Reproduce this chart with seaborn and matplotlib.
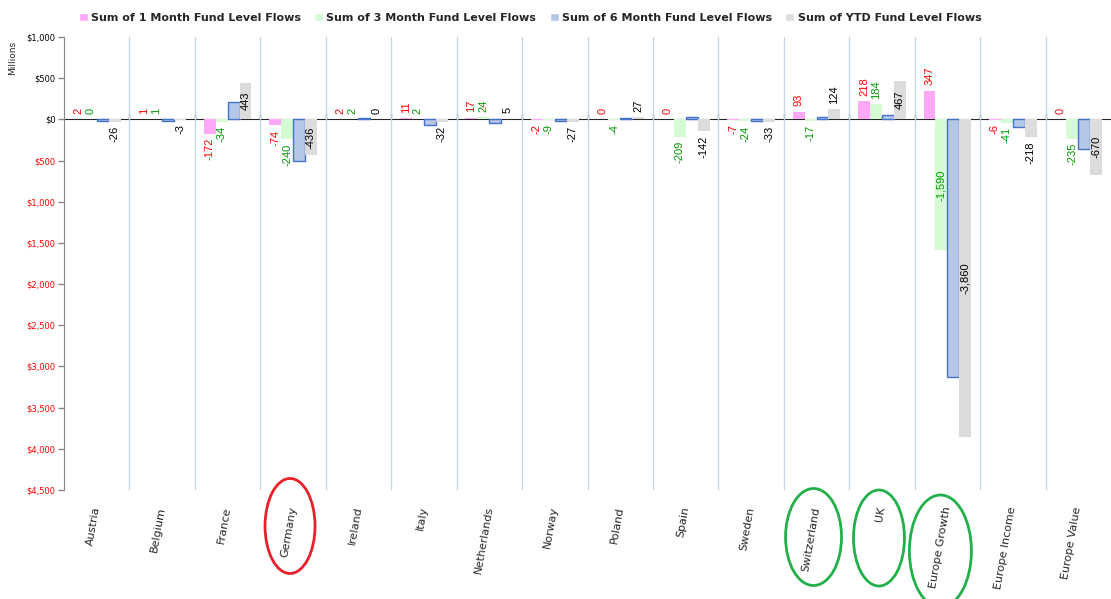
import matplotlib

matplotlib.use("Agg")
import matplotlib.pyplot as plt
import numpy as np
import pandas
import seaborn as sns
from matplotlib.patches import Ellipse
from matplotlib.ticker import FixedLocator

# Fund flows by country / style, in millions
categories = [
    "Austria", "Belgium", "France", "Germany", "Ireland", "Italy",
    "Netherlands", "Norway", "Poland", "Spain", "Sweden", "Switzerland",
    "UK", "Europe Growth", "Europe Income", "Europe Value",
]
series_names = [
    "Sum of 1 Month Fund Level Flows",
    "Sum of 3 Month Fund Level Flows",
    "Sum of 6 Month Fund Level Flows",
    "Sum of YTD Fund Level Flows",
]
flows_1m = [2, 1, -172, -74, 2, 11, 17, -2, 0, 0, -7, 93, 218, 347, -6, 0]
flows_3m = [0, 1, -34, -240, 2, 2, 24, -9, -4, -209, -24, -17, 184, -1590, -41, -235]
flows_6m = [-20, -15, 210, -500, 15, -65, -40, -25, 20, 30, -15, 32, 56, -3130, -90, -360]
flows_ytd = [-26, -3, 443, -436, 0, -32, 5, -27, 27, -142, -33, 124, 467, -3860, -218, -670]
yticks = list(range(-4500, 1001, 500))

# circled categories (hand-drawn highlights on the original)
highlighted = ["Germany", "Switzerland", "UK", "Europe Growth"]
highlight_colors = ["#e8202a", "#22b04a", "#22b04a", "#22b04a"]

bar_colors = ["#ffa8f8", "#d4fbd4", "#b4c7e7", "#dcdcdc"]
label_colors = ["#ff0000", "#009a00", None, "#000000"]

sns.set_style("white")
plt.rcParams["font.family"] = ["DejaVu Sans"]

rows = []
for name, vals in zip(series_names, [flows_1m, flows_3m, flows_6m, flows_ytd]):
    for cat, v in zip(categories, vals):
        rows.append({"category": cat, "series": name, "value": v})
df = pandas.DataFrame(rows)

fig = plt.figure(figsize=(11.11, 5.99), dpi=100)
ax = fig.add_axes([64 / 1111, 109 / 599, 1047 / 1111, 453 / 599])

sns.barplot(
    data=df, x="category", y="value", hue="series", order=categories,
    hue_order=series_names, palette=bar_colors, width=0.73, saturation=1,
    errorbar=None, ax=ax,
)

# only the 6 month bars get an outline
for i, cont in enumerate(ax.containers):
    for p in cont.patches:
        if i == 2:
            p.set_edgecolor("#4472c4")
            p.set_linewidth(1.0)
        else:
            p.set_linewidth(0)

# data labels (6 month series has none)
for i, cont in enumerate(ax.containers):
    if label_colors[i] is None:
        continue
    for p, v in zip(cont.patches, df[df.series == series_names[i]].value):
        xc = p.get_x() + p.get_width() / 2
        txt = f"{v:,.0f}"
        if abs(v) >= 400:
            ax.text(xc, v / 2, txt, rotation=90, ha="center", va="center",
                    fontsize=8, color=label_colors[i], family="Liberation Sans")
        else:
            up = v >= 0
            ax.annotate(txt, xy=(xc, v), xytext=(0, 4 if up else -3),
                        textcoords="offset points", rotation=90, ha="center",
                        va="bottom" if up else "top", fontsize=8,
                        color=label_colors[i], family="Liberation Sans")

ax.set_xlim(-0.5, len(categories) - 0.5)
ax.set_ylim(-4500, 1000)
ax.set_yticks(yticks)
ax.set_yticklabels([f"${abs(t):,.0f}" for t in yticks], fontsize=6)
for lab, t in zip(ax.get_yticklabels(), yticks):
    lab.set_color("#ff0000" if t < 0 else "#000000")
ax.tick_params(axis="y", direction="out", length=4, width=1, color="#868686", pad=2, left=True)

ax.set_xticks(range(len(categories)))
ax.set_xticklabels(categories, rotation=80, ha="right", va="center",
                   rotation_mode="anchor", fontsize=8)
ax.tick_params(axis="x", length=0, pad=12)
ax.xaxis.set_minor_locator(FixedLocator(np.arange(0.5, len(categories) - 1, 1)))
ax.tick_params(axis="x", which="minor", length=0)
ax.grid(which="minor", axis="x", color="#c9d6ea", linewidth=1)
ax.grid(which="major", axis="both", visible=False)
ax.set_axisbelow(True)

ax.set_xlabel("")
ax.set_ylabel("")
for s in ["top", "right", "bottom"]:
    ax.spines[s].set_visible(False)
ax.spines["left"].set_color("#868686")

# horizontal category axis sits on the zero line
zero_frac = (0 - (-4500)) / 5500
sec = ax.secondary_xaxis(zero_frac)
sec.set_xticks(np.arange(0.5, len(categories) - 1, 1))
sec.set_xticklabels([])
sec.tick_params(axis="x", direction="out", length=4, color="#868686", width=1)
sec.spines["bottom"].set_color("#868686")
sec.spines["bottom"].set_linewidth(1.2)

fig.text(13 / 1111, 1 - 58 / 599, "Millions", rotation=90, ha="center", va="center", fontsize=6.5)

handles, labels = ax.get_legend_handles_labels()
if ax.get_legend() is not None:
    ax.get_legend().remove()
fig.legend(handles, labels, loc="center", bbox_to_anchor=(530 / 1111, 1 - 18 / 599),
           ncol=4, frameon=False, prop={"size": 8, "weight": "bold"},
           handlelength=0.8, handleheight=0.8, handletextpad=0.3, columnspacing=1.2)

# ellipses round the circled tick labels, drawn in pixel space
ell_sizes = {"Germany": (50, 95, 526), "Switzerland": (56, 97, 537),
             "UK": (51, 96, 538), "Europe Growth": (62, 112, 551)}
for cat, col in zip(highlighted, highlight_colors):
    idx = categories.index(cat)
    px = ax.transData.transform((idx, 0))[0] - (7 if cat == "Europe Growth" else 3)
    w, h, ytop = ell_sizes[cat]
    e = Ellipse((px, 599 - ytop), w, h, transform=None, fill=False,
                edgecolor=col, linewidth=2.0, clip_on=False)
    fig.add_artist(e)

plt.savefig("out.png", dpi=100)
plt.close()
